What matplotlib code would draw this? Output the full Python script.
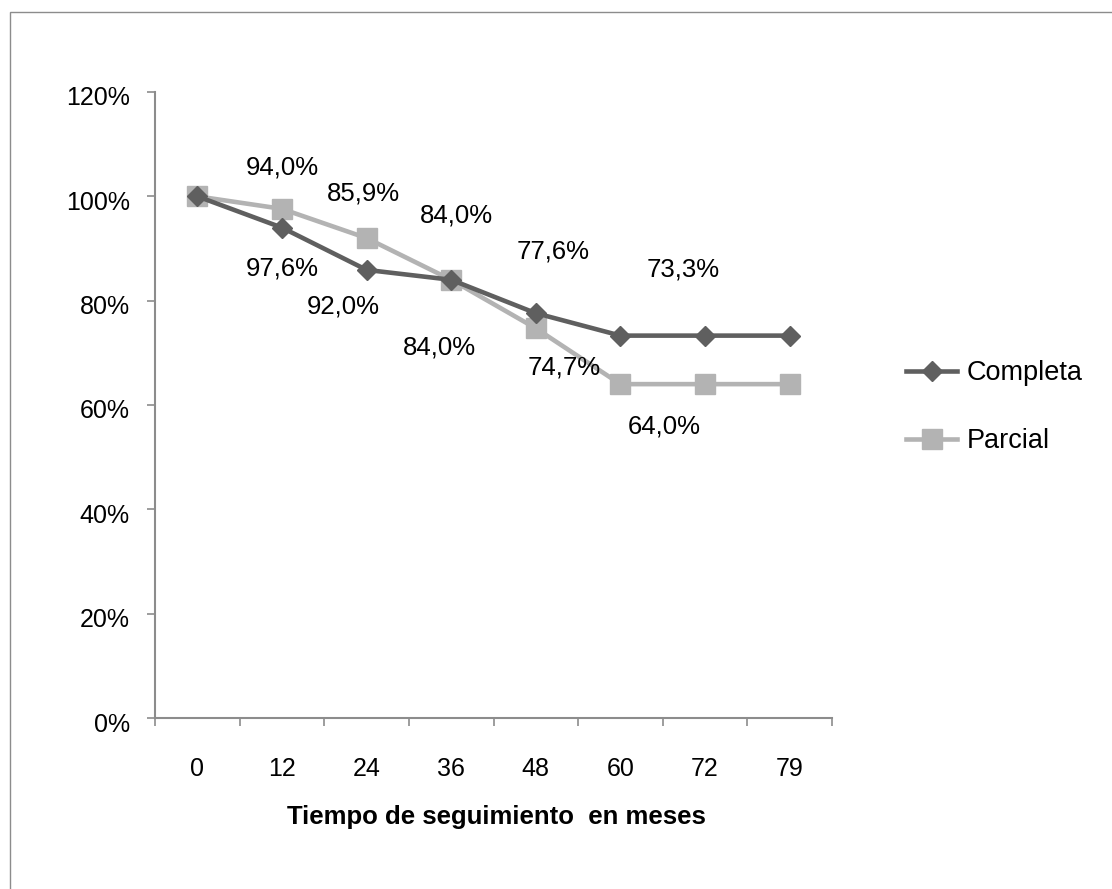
import matplotlib.pyplot as plt
import matplotlib.transforms as mtransforms
from matplotlib.patches import Rectangle

plt.rcParams['font.family'] = ['Liberation Sans', 'DejaVu Sans']

meses = ['0', '12', '24', '36', '48', '60', '72', '79']
completa = [100.0, 94.0, 85.9, 84.0, 77.6, 73.3, 73.3, 73.3]
parcial = [100.0, 97.6, 92.0, 84.0, 74.7, 64.0, 64.0, 64.0]

# which points carry a value label
completa_lab = [False, True, True, True, True, True, False, False]
parcial_lab = [False, True, True, True, True, True, False, False]

# label offsets in pixels (dx, dy with y pointing down)
completa_off = [None, (0, -60), (-3, -76), (5, -64), (17, -62), (63, -66), None, None]
parcial_off = [None, (0, 60), (-23, 68), (-12, 68), (28, 39), (44, 42), None, None]

W, H = 1112, 889
fig = plt.figure(figsize=(W / 100, H / 100), dpi=100)
ax = fig.add_axes([155 / W, 1 - 718 / H, (832 - 155) / W, (718 - 92) / H])

# outer chart border
fig.patches.append(Rectangle((10 / W, -0.1), 1.2, 1 - 12 / H + 0.1, transform=fig.transFigure,
                             fill=False, edgecolor='#8c8c8c', linewidth=1.0))

x = list(range(len(meses)))
c_dark = '#5f5f5f'
c_light = '#b3b3b3'
ax.plot(x, [v / 100 for v in completa], color=c_dark, lw=3.3, marker='D', ms=10,
        label='Completa', zorder=3)
ax.plot(x, [v / 100 for v in parcial], color=c_light, lw=3.3, marker='s', ms=14.5,
        label='Parcial', zorder=2)

fs = 18
fs_lab = 18.5
for i, v in enumerate(completa):
    if completa_lab[i]:
        dx, dy = completa_off[i]
        ax.annotate(f'{v:.1f}%'.replace('.', ','), (i, v / 100), xytext=(dx, -dy),
                    textcoords='offset pixels', ha='center', va='center', fontsize=fs_lab)
for i, v in enumerate(parcial):
    if parcial_lab[i]:
        dx, dy = parcial_off[i]
        ax.annotate(f'{v:.1f}%'.replace('.', ','), (i, v / 100), xytext=(dx, -dy),
                    textcoords='offset pixels', ha='center', va='center', fontsize=fs_lab)

ax.set_xlim(-0.5, 7.5)
ax.set_ylim(0, 1.2)
ax.set_yticks([0, 0.2, 0.4, 0.6, 0.8, 1.0, 1.2])
ax.set_yticklabels(['0%', '20%', '40%', '60%', '80%', '100%', '120%'])
ax.set_xticks(x)
ax.set_xticklabels(meses)
ax.set_xticks([i - 0.5 for i in range(len(meses) + 1)], minor=True)

for s in ['top', 'right']:
    ax.spines[s].set_visible(False)
for s in ['left', 'bottom']:
    ax.spines[s].set_color('#8c8c8c')
    ax.spines[s].set_linewidth(1.5)

ax.tick_params(axis='y', direction='out', length=6, width=1.2, color='#8c8c8c',
               labelsize=fs, pad=12)
ax.tick_params(axis='x', which='major', length=0, labelsize=fs, pad=28)
ax.tick_params(axis='x', which='minor', direction='out', length=6, width=1.2, color='#8c8c8c')

# nudge y tick labels a little below their ticks
shift = mtransforms.ScaledTranslation(0, -4 / 100, fig.dpi_scale_trans)
for lab in ax.get_yticklabels():
    lab.set_transform(lab.get_transform() + shift)

fig.text(496 / W, 1 - 817 / H, 'Tiempo de seguimiento  en meses', ha='center', va='center',
         fontsize=18.5, fontweight='bold')

ax.legend(loc='center left', bbox_to_anchor=(906 / W, 1 - 407 / H), bbox_transform=fig.transFigure,
          frameon=False, fontsize=19.5, handlelength=1.9, handletextpad=0.35, labelspacing=1.55,
          borderpad=0, borderaxespad=0)

fig.savefig('out.png', dpi=100)
